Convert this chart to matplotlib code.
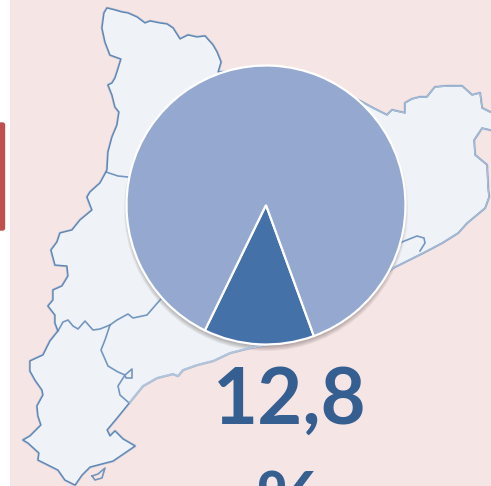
import matplotlib
matplotlib.use("Agg")
import matplotlib.pyplot as plt
from matplotlib.patches import Circle, Polygon, Rectangle, FancyBboxPatch

W, H = 491, 486

# pie values
pie_values = [12.8, 87.2]
pie_colors = ["#4472A8", "#95A9D0"]
big_label = "12,8"
unit_label = "%"

# map outline (pixels)
north_pts = [(104, 13), (107, 8), (115, 10), (122, 12), (128, 13), (137, 17), (145, 23), (150, 21), (160, 23),
             (167, 24), (173, 28), (180, 39), (188, 35), (197, 37), (205, 36), (213, 45), (217, 52), (221, 62),
             (218, 72), (300, 70), (362, 102), (373, 108), (387, 115), (392, 110), (405, 113), (405, 103),
             (412, 99), (420, 97), (427, 97), (435, 87), (447, 86), (462, 86), (472, 95), (480, 93), (482, 108),
             (490, 112), (495, 113), (495, 131), (482, 128), (474, 140), (475, 155), (487, 165), (488, 187),
             (489, 197), (485, 208), (467, 223), (458, 233), (442, 243), (425, 252), (393, 268), (340, 310),
             (290, 340)]
coast_pts = [(290, 340), (250, 348), (230, 353), (213, 361), (197, 365), (183, 370), (178, 376), (173, 374),
             (157, 378), (143, 386), (130, 402)]
west_pts = [(130, 402), (117, 418), (107, 430), (110, 436), (115, 431), (123, 439), (135, 446), (113, 461),
            (90, 467), (82, 475), (75, 485), (65, 480), (58, 470), (38, 460), (39, 453), (28, 443), (23, 440),
            (30, 436), (41, 425), (38, 416), (37, 406), (43, 395), (42, 390), (35, 380), (30, 371), (30, 361),
            (43, 355), (50, 341), (58, 331), (55, 323), (55, 315), (48, 306), (53, 300), (53, 290), (62, 286),
            (68, 276), (67, 266), (55, 265), (51, 250), (57, 242), (60, 233), (72, 230), (80, 220), (92, 210),
            (87, 197), (90, 192), (100, 183), (106, 172), (107, 170), (108, 152), (112, 137), (117, 125),
            (119, 112), (115, 107), (112, 95), (108, 85), (112, 83), (115, 78), (117, 72), (121, 59), (110, 55),
            (105, 42), (102, 28), (104, 13)]

# inner borders between provinces
border1_x = [106, 118, 128, 150]
border1_y = [172, 176, 177, 180]
border2_x = [58, 63, 68, 73, 78, 85, 93, 100, 110, 117, 128, 133, 147, 160, 170]
border2_y = [331, 322, 320, 326, 329, 321, 330, 329, 325, 320, 314, 318, 315, 300, 290]
border3_x = [110, 105, 101, 108, 118, 125, 132, 132, 126, 125, 118, 120, 128]
border3_y = [325, 340, 350, 366, 372, 375, 369, 378, 378, 375, 386, 395, 402]
border4_x = [395, 402, 417, 424, 425, 420]
border4_y = [248, 242, 236, 238, 243, 251]
delta_x = [92, 98, 105, 102, 95, 92]
delta_y = [476, 474, 468, 478, 480, 476]

bg_color = "#F5E6E5"
land_color = "#EFF3F8"
line_color = "#5F87B5"
text_color = "#355E91"

fig = plt.figure(figsize=(W / 100, H / 100), dpi=100, facecolor="white")
ax = fig.add_axes([0, 0, 1, 1])
ax.set_xlim(0, W)
ax.set_ylim(H, 0)
ax.axis("off")

ax.add_patch(Rectangle((10, 0), W - 10, H, fc=bg_color, ec="none"))
ax.add_patch(FancyBboxPatch((-10, 123), 14.5, 107, boxstyle="round,pad=0,rounding_size=2", fc="#C0504D", ec="#C0504D", lw=1))

outline = north_pts + coast_pts[1:] + west_pts[1:]
ax.add_patch(Polygon(outline, closed=True, fc=land_color, ec=line_color, lw=1.9, alpha=0.45, joinstyle="round"))
ax.add_patch(Polygon(outline, closed=True, fc=land_color, ec=line_color, lw=1.0, joinstyle="round"))
ax.plot(*zip(*north_pts[20:]), color="#A9BDD6", lw=1.0)
ax.plot(*zip(*coast_pts), color="#B4C5DB", lw=1.5)
for xs, ys in [(border1_x, border1_y), (border2_x, border2_y), (border3_x, border3_y),
               (border4_x, border4_y), (delta_x, delta_y)]:
    ax.plot(xs, ys, color=line_color, lw=1.2, alpha=0.85)

# soft shadow under the pie
for k in range(7):
    ax.add_patch(Circle((266, 209), 142 - k, fc="#403030", ec="none", alpha=0.07))

cx, cy, r = 266, 205, 139.5
pie_ax = fig.add_axes([(cx - r - 1) / W, 1 - (cy + r + 1) / H, (2 * r + 2) / W, (2 * r + 2) / H])
pie_ax.pie(pie_values, colors=pie_colors, startangle=244, radius=r / (r + 1),
           wedgeprops=dict(edgecolor="white", linewidth=1.6))
pie_ax.set_xlim(-1, 1)
pie_ax.set_ylim(-1, 1)

ax.text(289.5, 424, big_label, family="Lato", weight="bold", fontsize=56, color=text_color,
        ha="center", va="baseline", zorder=5)
ax.text(288, 528, unit_label, family="Lato", weight="bold", fontsize=56, color=text_color,
        ha="center", va="baseline", zorder=5)

fig.savefig("out.png", dpi=100)
